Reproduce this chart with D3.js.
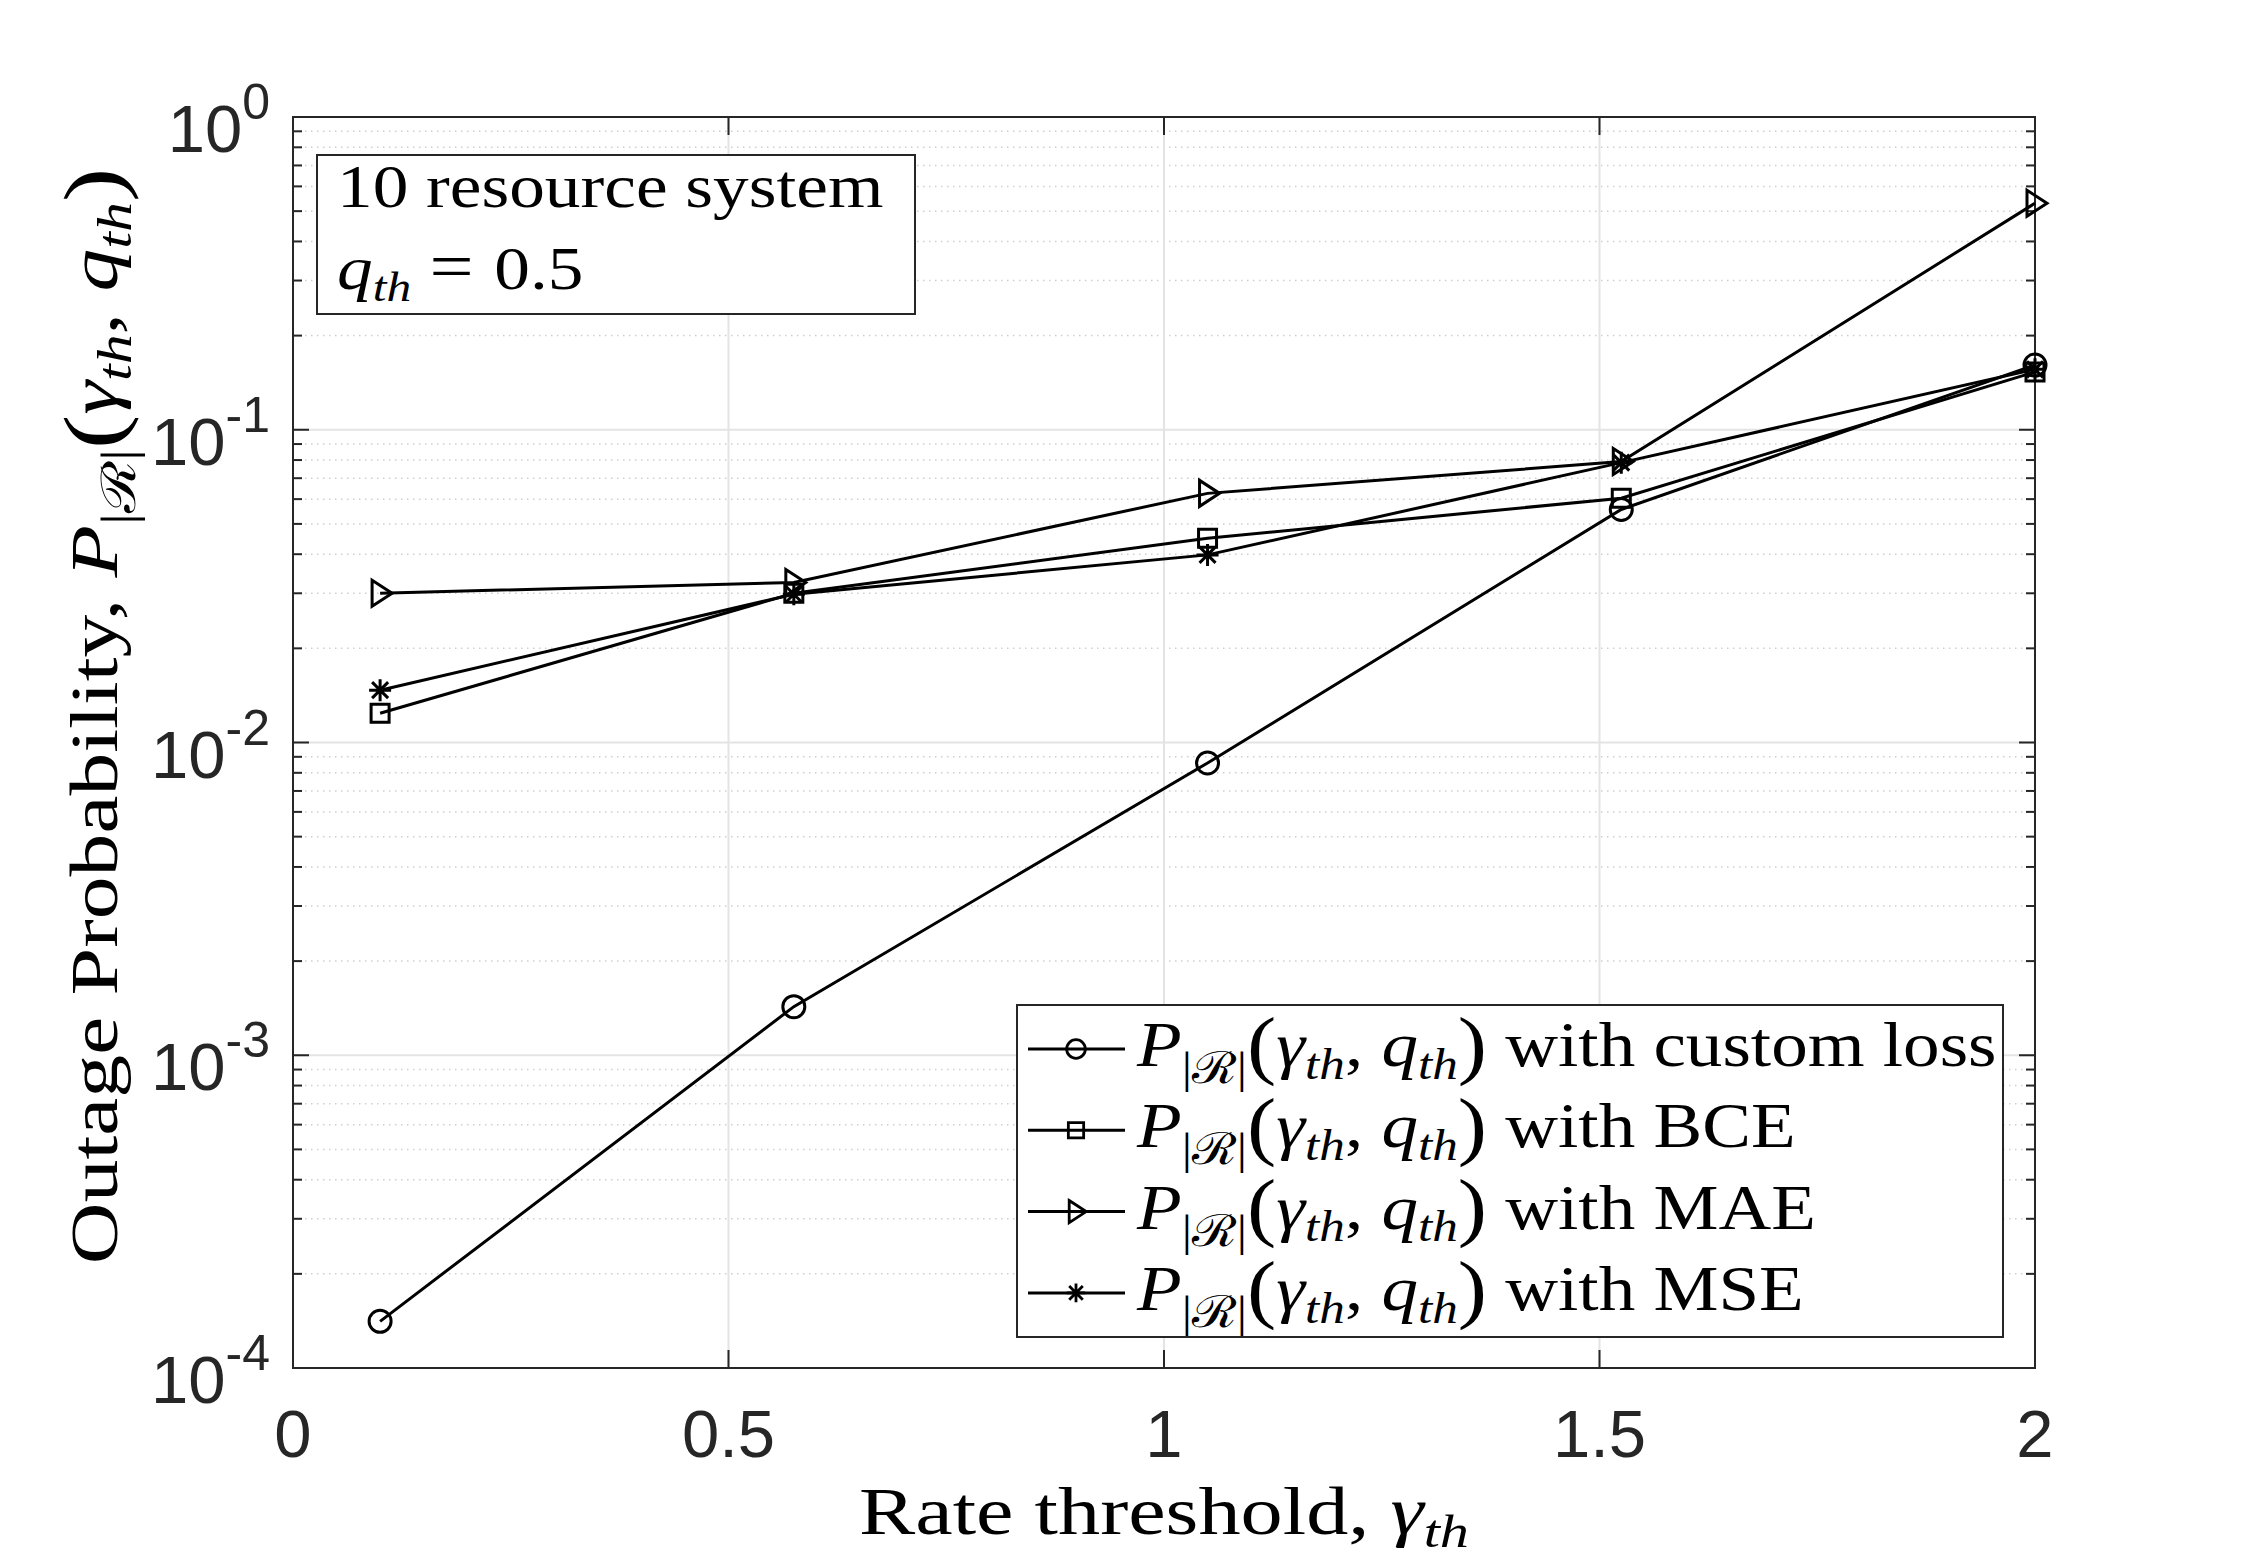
<!DOCTYPE html>
<html>
<head>
<meta charset="utf-8">
<script src="https://cdn.jsdelivr.net/npm/d3@7"></script>
<style>
  body { margin: 0; background: #fff; }
  svg { display: block; }
</style>
</head>
<body>
<svg id="plot"></svg>
<script>
// rate threshold values (x) and outage probability for each loss
const rateThreshold = [0.1, 0.575, 1.05, 1.525, 2.0];
const customLoss = [1.41e-4, 1.43e-3, 8.6e-3, 0.0556, 0.161];
const bceLoss = [0.0124, 0.0300, 0.0450, 0.0604, 0.153];
const maeLoss = [0.0300, 0.0325, 0.0626, 0.0791, 0.530];
const mseLoss = [0.0147, 0.0298, 0.0398, 0.0785, 0.156];
const seriesNames = ["custom loss", "BCE", "MAE", "MSE"];
const seriesMarkers = ["circle", "square", "triangle", "star"];
const xTicks = [0, 0.5, 1, 1.5, 2];
const yExponents = [0, -1, -2, -3, -4];

const W = 2250, H = 1562;
const margin = { top: 117, right: 215, bottom: 194, left: 293 };
const width = W - margin.left - margin.right;
const height = H - margin.top - margin.bottom;
const serif = "'Liberation Serif', 'Times New Roman', serif";
const sans = "'Liberation Sans', Arial, sans-serif";
const stretch = 1.15; // CM-like width

const svg = d3.select("#plot").attr("width", W).attr("height", H);

const x = d3.scaleLinear().domain([0, 2]).range([margin.left, margin.left + width]);
const y = d3.scaleLog().domain([1e-4, 1]).range([margin.top + height, margin.top]);

// grid
const grid = svg.append("g");
const minorVals = [];
yExponents.slice(0, 4).forEach((e) => {
  for (let k = 2; k <= 9; k++) minorVals.push(k * Math.pow(10, e - 1));
});
grid.selectAll(".ymin").data(minorVals).enter().append("line")
  .attr("x1", x(0)).attr("x2", x(2))
  .attr("y1", (d) => y(d)).attr("y2", (d) => y(d))
  .attr("stroke", "#cfcfcf").attr("stroke-width", 1.5)
  .attr("stroke-dasharray", "1.5,4.5");
grid.selectAll(".ymaj").data(yExponents).enter().append("line")
  .attr("x1", x(0)).attr("x2", x(2))
  .attr("y1", (d) => y(Math.pow(10, d))).attr("y2", (d) => y(Math.pow(10, d)))
  .attr("stroke", "#e4e4e4").attr("stroke-width", 2);
grid.selectAll(".xmaj").data(xTicks).enter().append("line")
  .attr("x1", (d) => x(d)).attr("x2", (d) => x(d))
  .attr("y1", y(1)).attr("y2", y(1e-4))
  .attr("stroke", "#e4e4e4").attr("stroke-width", 2);

// frame and ticks
const axc = "#262626";
const ticks = svg.append("g").attr("stroke", axc).attr("stroke-width", 2);
yExponents.forEach((e) => {
  const yy = y(Math.pow(10, e));
  ticks.append("line").attr("x1", x(0)).attr("x2", x(0) + 16).attr("y1", yy).attr("y2", yy);
  ticks.append("line").attr("x1", x(2)).attr("x2", x(2) - 16).attr("y1", yy).attr("y2", yy);
});
minorVals.forEach((v) => {
  const yy = y(v);
  ticks.append("line").attr("x1", x(0)).attr("x2", x(0) + 9).attr("y1", yy).attr("y2", yy);
  ticks.append("line").attr("x1", x(2)).attr("x2", x(2) - 9).attr("y1", yy).attr("y2", yy);
});
xTicks.forEach((t) => {
  ticks.append("line").attr("x1", x(t)).attr("x2", x(t)).attr("y1", y(1e-4)).attr("y2", y(1e-4) - 18);
  ticks.append("line").attr("x1", x(t)).attr("x2", x(t)).attr("y1", y(1)).attr("y2", y(1) + 18);
});
svg.append("rect")
  .attr("x", x(0)).attr("y", y(1)).attr("width", width).attr("height", height)
  .attr("fill", "none").attr("stroke", axc).attr("stroke-width", 2);

// tick labels
svg.selectAll(".xtl").data(xTicks).enter().append("text")
  .attr("x", (d) => x(d)).attr("y", y(1e-4) + 89)
  .attr("text-anchor", "middle").attr("font-family", sans).attr("font-size", 67)
  .attr("fill", axc).text((d) => d);
yExponents.forEach((e) => {
  const t = svg.append("text")
    .attr("x", x(0) - 23).attr("y", y(Math.pow(10, e)) + 35)
    .attr("text-anchor", "end").attr("font-family", sans).attr("font-size", 67)
    .attr("fill", axc);
  t.append("tspan").text("10");
  t.append("tspan").attr("dy", -33).attr("font-size", 50).text(e);
});

// math label helper: P_{|R|}(gamma_th, q_th)
function mathLabel(t, fs, prefix, suffix) {
  if (prefix) t.append("tspan").text(prefix);
  t.append("tspan").attr("font-style", "italic").text("P");
  t.append("tspan").attr("font-size", fs * 0.7).attr("dy", fs * 0.27).text("|\u211B|");
  t.append("tspan").attr("font-size", fs * 1.2)
    .attr("dy", -fs * 0.27 + fs * 0.06).text("(");
  t.append("tspan").attr("font-style", "italic").attr("dy", -fs * 0.06).text("\u03B3");
  t.append("tspan").attr("font-style", "italic").attr("font-size", fs * 0.7).attr("dy", fs * 0.2).text("th");
  t.append("tspan").attr("dy", -fs * 0.2).text(", ");
  t.append("tspan").attr("font-style", "italic").text("q");
  t.append("tspan").attr("font-style", "italic").attr("font-size", fs * 0.7).attr("dy", fs * 0.2).text("th");
  t.append("tspan").attr("font-size", fs * 1.2)
    .attr("dy", -fs * 0.2 + fs * 0.06).text(")");
  if (suffix) t.append("tspan").attr("dy", -fs * 0.06).text(suffix);
}

// markers
function markerPath(type) {
  switch (type) {
    case "circle": return d3.symbol(d3.symbolCircle, Math.PI * 11 * 11)();
    case "square": return "M-9,-9H9V9H-9Z";
    case "triangle": return "M-8,-13L12,0L-8,13Z";
    default: return "M0,-11V11M-11,0H11M-8,-8L8,8M-8,8L8,-8";
  }
}

const seriesValues = [customLoss, bceLoss, maeLoss, mseLoss];
const line = d3.line().x((d) => x(d[0])).y((d) => y(d[1]));
seriesValues.forEach((vals, i) => {
  const pts = rateThreshold.map((r, j) => [r, vals[j]]);
  svg.append("path").attr("d", line(pts)).attr("fill", "none")
    .attr("stroke", "#000").attr("stroke-width", 3);
  svg.selectAll(".m" + i).data(pts).enter().append("path")
    .attr("transform", (d) => `translate(${x(d[0])},${y(d[1])})`)
    .attr("d", markerPath(seriesMarkers[i]))
    .attr("fill", "none").attr("stroke", "#000").attr("stroke-width", 3);
});

// annotation box
svg.append("rect").attr("x", 317).attr("y", 155).attr("width", 598).attr("height", 159)
  .attr("fill", "#fff").attr("stroke", axc).attr("stroke-width", 2);
svg.append("text").attr("transform", `translate(337,207) scale(${stretch},1)`)
  .attr("font-family", serif).attr("font-size", 62).text("10 resource system");
const qt = svg.append("text").attr("transform", `translate(337,289) scale(${stretch},1)`)
  .attr("font-family", serif).attr("font-size", 62);
qt.append("tspan").attr("font-style", "italic").text("q");
qt.append("tspan").attr("font-style", "italic").attr("font-size", 43).attr("dy", 12).text("th");
qt.append("tspan").attr("dy", -12).attr("dx", 16).attr("font-size", 68).text("=");
qt.append("tspan").attr("dx", 18).text("0.5");

// legend
const lg = svg.append("g");
lg.append("rect").attr("x", 1017).attr("y", 1005).attr("width", 986).attr("height", 332)
  .attr("fill", "#fff").attr("stroke", axc).attr("stroke-width", 2);
seriesNames.forEach((name, i) => {
  const cy = 1049 + i * 81.3;
  lg.append("line").attr("x1", 1028).attr("x2", 1125).attr("y1", cy).attr("y2", cy)
    .attr("stroke", "#000").attr("stroke-width", 3);
  lg.append("path").attr("transform", `translate(1076,${cy}) scale(0.85)`)
    .attr("d", markerPath(seriesMarkers[i]))
    .attr("fill", "none").attr("stroke", "#000").attr("stroke-width", 3.3);
  const t = lg.append("text").attr("transform", `translate(1137,${cy + 17}) scale(1.16,1)`)
    .attr("font-family", serif).attr("font-size", 63);
  mathLabel(t, 63, null, " with " + name);
});

// axis labels
const xl = svg.append("text")
  .attr("transform", `translate(${x(1)},1534) scale(1.24,1)`)
  .attr("text-anchor", "middle").attr("font-family", serif).attr("font-size", 68);
xl.append("tspan").text("Rate threshold, ");
xl.append("tspan").attr("font-style", "italic").text("\u03B3");
xl.append("tspan").attr("font-style", "italic").attr("font-size", 47).attr("dy", 13).text("th");

const yl = svg.append("text")
  .attr("transform", `translate(117,716) rotate(-90) scale(1.26,1)`)
  .attr("text-anchor", "middle").attr("font-family", serif).attr("font-size", 68);
mathLabel(yl, 68, "Outage Probability, ", null);
</script>
</body>
</html>
